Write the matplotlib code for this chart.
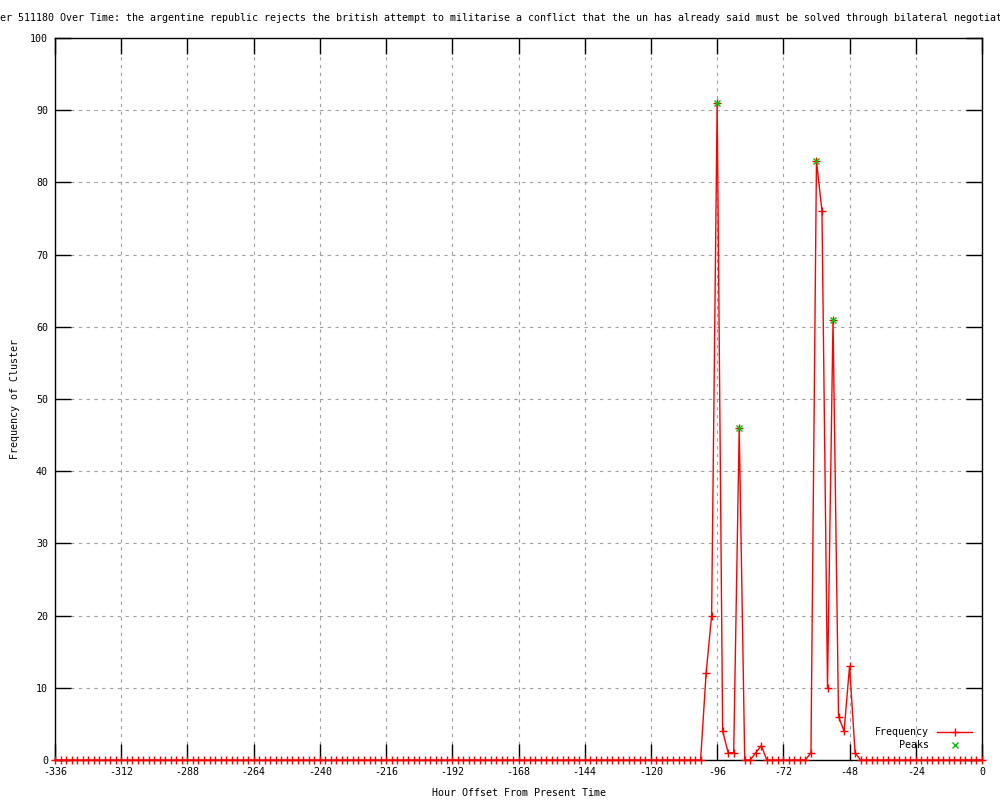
import matplotlib.pyplot as plt

# hours from -336 to 0 every 2 hours; nonzero counts only near the two clusters
hours = list(range(-336, 1, 2))
nonzero = {
    -100: 12, -98: 20, -96: 91, -94: 4, -92: 1, -90: 1, -88: 46,
    -82: 1, -80: 2,
    -62: 1, -60: 83, -58: 76, -56: 10, -54: 61, -52: 6, -50: 4, -48: 13, -46: 1,
}
freq = [nonzero.get(h, 0) for h in hours]

peak_hours = [-96, -88, -60, -54]
peak_vals = [91, 46, 83, 61]

title = ("Frequency of Cluster 511180 Over Time: the argentine republic rejects the british "
         "attempt to militarise a conflict that the un has already said must be solved "
         "through bilateral negotiations")

mono = "DejaVu Sans Mono"
fs = 7.2

fig = plt.figure(figsize=(10, 8), dpi=100)
ax = fig.add_axes([0.055, 0.05, 0.927, 0.9025])

ax.plot(hours, freq, color="red", lw=1, marker="+", ms=6, mew=1, label="Frequency",
        clip_on=False, zorder=3)
ax.plot(peak_hours, peak_vals, ls="none", color="#00c000", marker="x", ms=4.5, mew=1,
        label="Peaks", clip_on=False, zorder=4)

ax.set_xlim(-336, 0)
ax.set_ylim(0, 100)
ax.set_xticks(range(-336, 1, 24))
ax.set_yticks(range(0, 101, 10))
ax.set_xticklabels([str(t) for t in range(-336, 1, 24)], family=mono, fontsize=fs)
ax.set_yticklabels([str(t) for t in range(0, 101, 10)], family=mono, fontsize=fs)
ax.tick_params(direction="in", length=11.5, width=1, top=True, right=True, pad=5)
ax.grid(True, color="#a0a0a0", ls=(0, (3, 4)), lw=0.8)
for s in ax.spines.values():
    s.set_linewidth(1)

ax.set_xlabel("Hour Offset From Present Time", family=mono, fontsize=fs, labelpad=8)
ax.set_ylabel("Frequency of Cluster", family=mono, fontsize=fs, labelpad=7.5)

# title is wider than the figure; the word "Clust" is cut at the left edge
cw = 6.0
left_px = -18 * cw
center_px = left_px + len(title) * cw / 2
fig.text(center_px / 1000, 1 - 18 / 800, title, family=mono, fontsize=fs,
         ha="center", va="center")

leg = ax.legend(loc="lower right", frameon=False, prop={"family": mono, "size": fs},
                markerfirst=False, handlelength=3.5, borderaxespad=0.6, labelspacing=0.3)

fig.savefig("out.png", dpi=100)
